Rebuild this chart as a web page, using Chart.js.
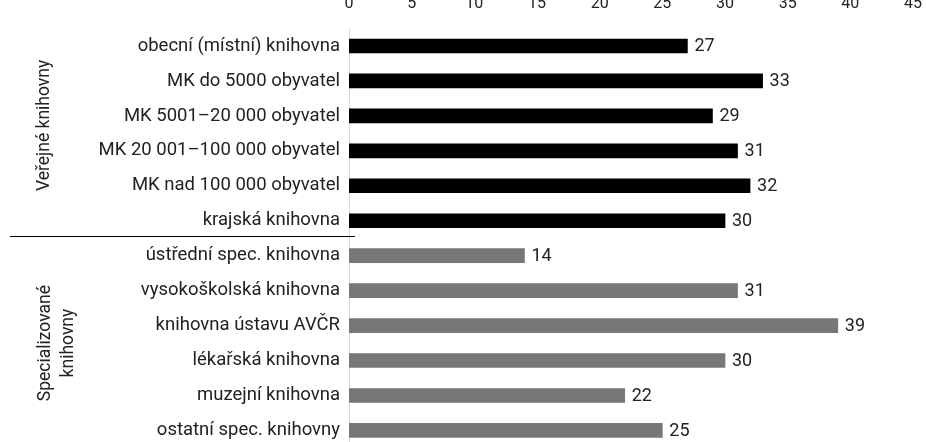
<!DOCTYPE html>
<html>
<head>
<meta charset="utf-8">
<script src="https://cdn.jsdelivr.net/npm/chart.js@4"></script>
<style>
  html, body { margin: 0; padding: 0; background: #fff; overflow: hidden; }
  #wrap { position: relative; width: 926px; height: 442px; overflow: hidden; }
  #wrap canvas { position: absolute; left: 0; top: -12px; }
</style>
</head>
<body>
<div id="wrap"><canvas id="barChart" width="926" height="480"></canvas></div>
<script>
'use strict';
const categories = [
  'obecní (místní) knihovna',
  'MK do 5000 obyvatel',
  'MK 5001–20 000 obyvatel',
  'MK 20 001–100 000 obyvatel',
  'MK nad 100 000 obyvatel',
  'krajská knihovna',
  'ústřední spec. knihovna',
  'vysokoškolská knihovna',
  'knihovna ústavu AVČR',
  'lékařská knihovna',
  'muzejní knihovna',
  'ostatní spec. knihovny'
];
const values = [27, 33, 29, 31, 32, 30, 14, 31, 39, 30, 22, 25];
const groups = [
  { lines: ['Veřejné knihovny'], from: 0, to: 5, color: '#000000' },
  { lines: ['Specializované', 'knihovny'], from: 6, to: 11, color: '#777777' }
];
const xTicks = [0, 5, 10, 15, 20, 25, 30, 35, 40, 45];

const FONT = 'Roboto, "Liberation Sans", sans-serif';
const TEXT = '#222222';

const barColors = categories.map((c, i) => groups.find(g => i >= g.from && i <= g.to).color);

// values next to bars, group titles and the divider line
const extras = {
  id: 'extras',
  afterDatasetsDraw(chart) {
    const ctx = chart.ctx;
    const y = chart.scales.y;
    const meta = chart.getDatasetMeta(0);
    ctx.save();
    ctx.fillStyle = TEXT;
    ctx.font = '18px ' + FONT;
    ctx.textAlign = 'left';
    ctx.textBaseline = 'middle';
    meta.data.forEach((bar, i) => {
      ctx.fillText(String(values[i]), bar.x + 7, bar.y + 1);
    });

    // divider between groups
    const yDiv = Math.round((y.getPixelForValue(5) + y.getPixelForValue(6)) / 2) - 1.5;
    ctx.strokeStyle = '#000';
    ctx.lineWidth = 1;
    ctx.beginPath();
    ctx.moveTo(10, yDiv);
    ctx.lineTo(355, yDiv);
    ctx.stroke();

    // rotated group titles
    ctx.font = '17.5px ' + FONT;
    ctx.textAlign = 'center';
    ctx.textBaseline = 'middle';
    groups.forEach((g, gi) => {
      const cy = (y.getPixelForValue(g.from) + y.getPixelForValue(g.to)) / 2 + (gi === 0 ? -8 : 0);
      const x0 = g.lines.length === 1 ? 45 : 46;
      ctx.save();
      ctx.translate(x0, cy);
      ctx.rotate(-Math.PI / 2);
      g.lines.forEach((t, li) => ctx.fillText(t, 0, li * 23));
      ctx.restore();
    });
    ctx.restore();
  }
};

document.addEventListener('DOMContentLoaded', e => {
  let ctx = document.getElementById('barChart');
  let chart = new Chart(ctx, {
    type: 'bar',
    data: {
      labels: categories,
      datasets: [{
        data: values,
        backgroundColor: barColors,
        borderWidth: 0,
        barThickness: 14
      }]
    },
    options: {
      indexAxis: 'y',
      responsive: false,
      animation: false,
      layout: { padding: { left: 0, right: 13, top: 0, bottom: 18 } },
      plugins: {
        legend: { display: false },
        tooltip: { enabled: false }
      },
      scales: {
        x: {
          position: 'top',
          min: 0,
          max: 45,
          afterFit(s) { s.height = 40.5; s.paddingLeft = 0; s.paddingRight = 0; },
          afterBuildTicks(s) { s.ticks = xTicks.map(v => ({ value: v })); },
          grid: { display: false, drawTicks: false },
          border: { display: false },
          ticks: { color: TEXT, font: { family: FONT, size: 16 }, padding: 15 }
        },
        y: {
          afterFit(s) { s.width = 349; },
          grid: { display: false, drawTicks: false },
          border: { display: true, color: '#d9d9d9', width: 1 },
          ticks: { color: TEXT, font: { family: FONT, size: 18.5 }, padding: 9, autoSkip: false }
        }
      }
    },
    plugins: [extras]
  });
});
</script>
</body>
</html>
